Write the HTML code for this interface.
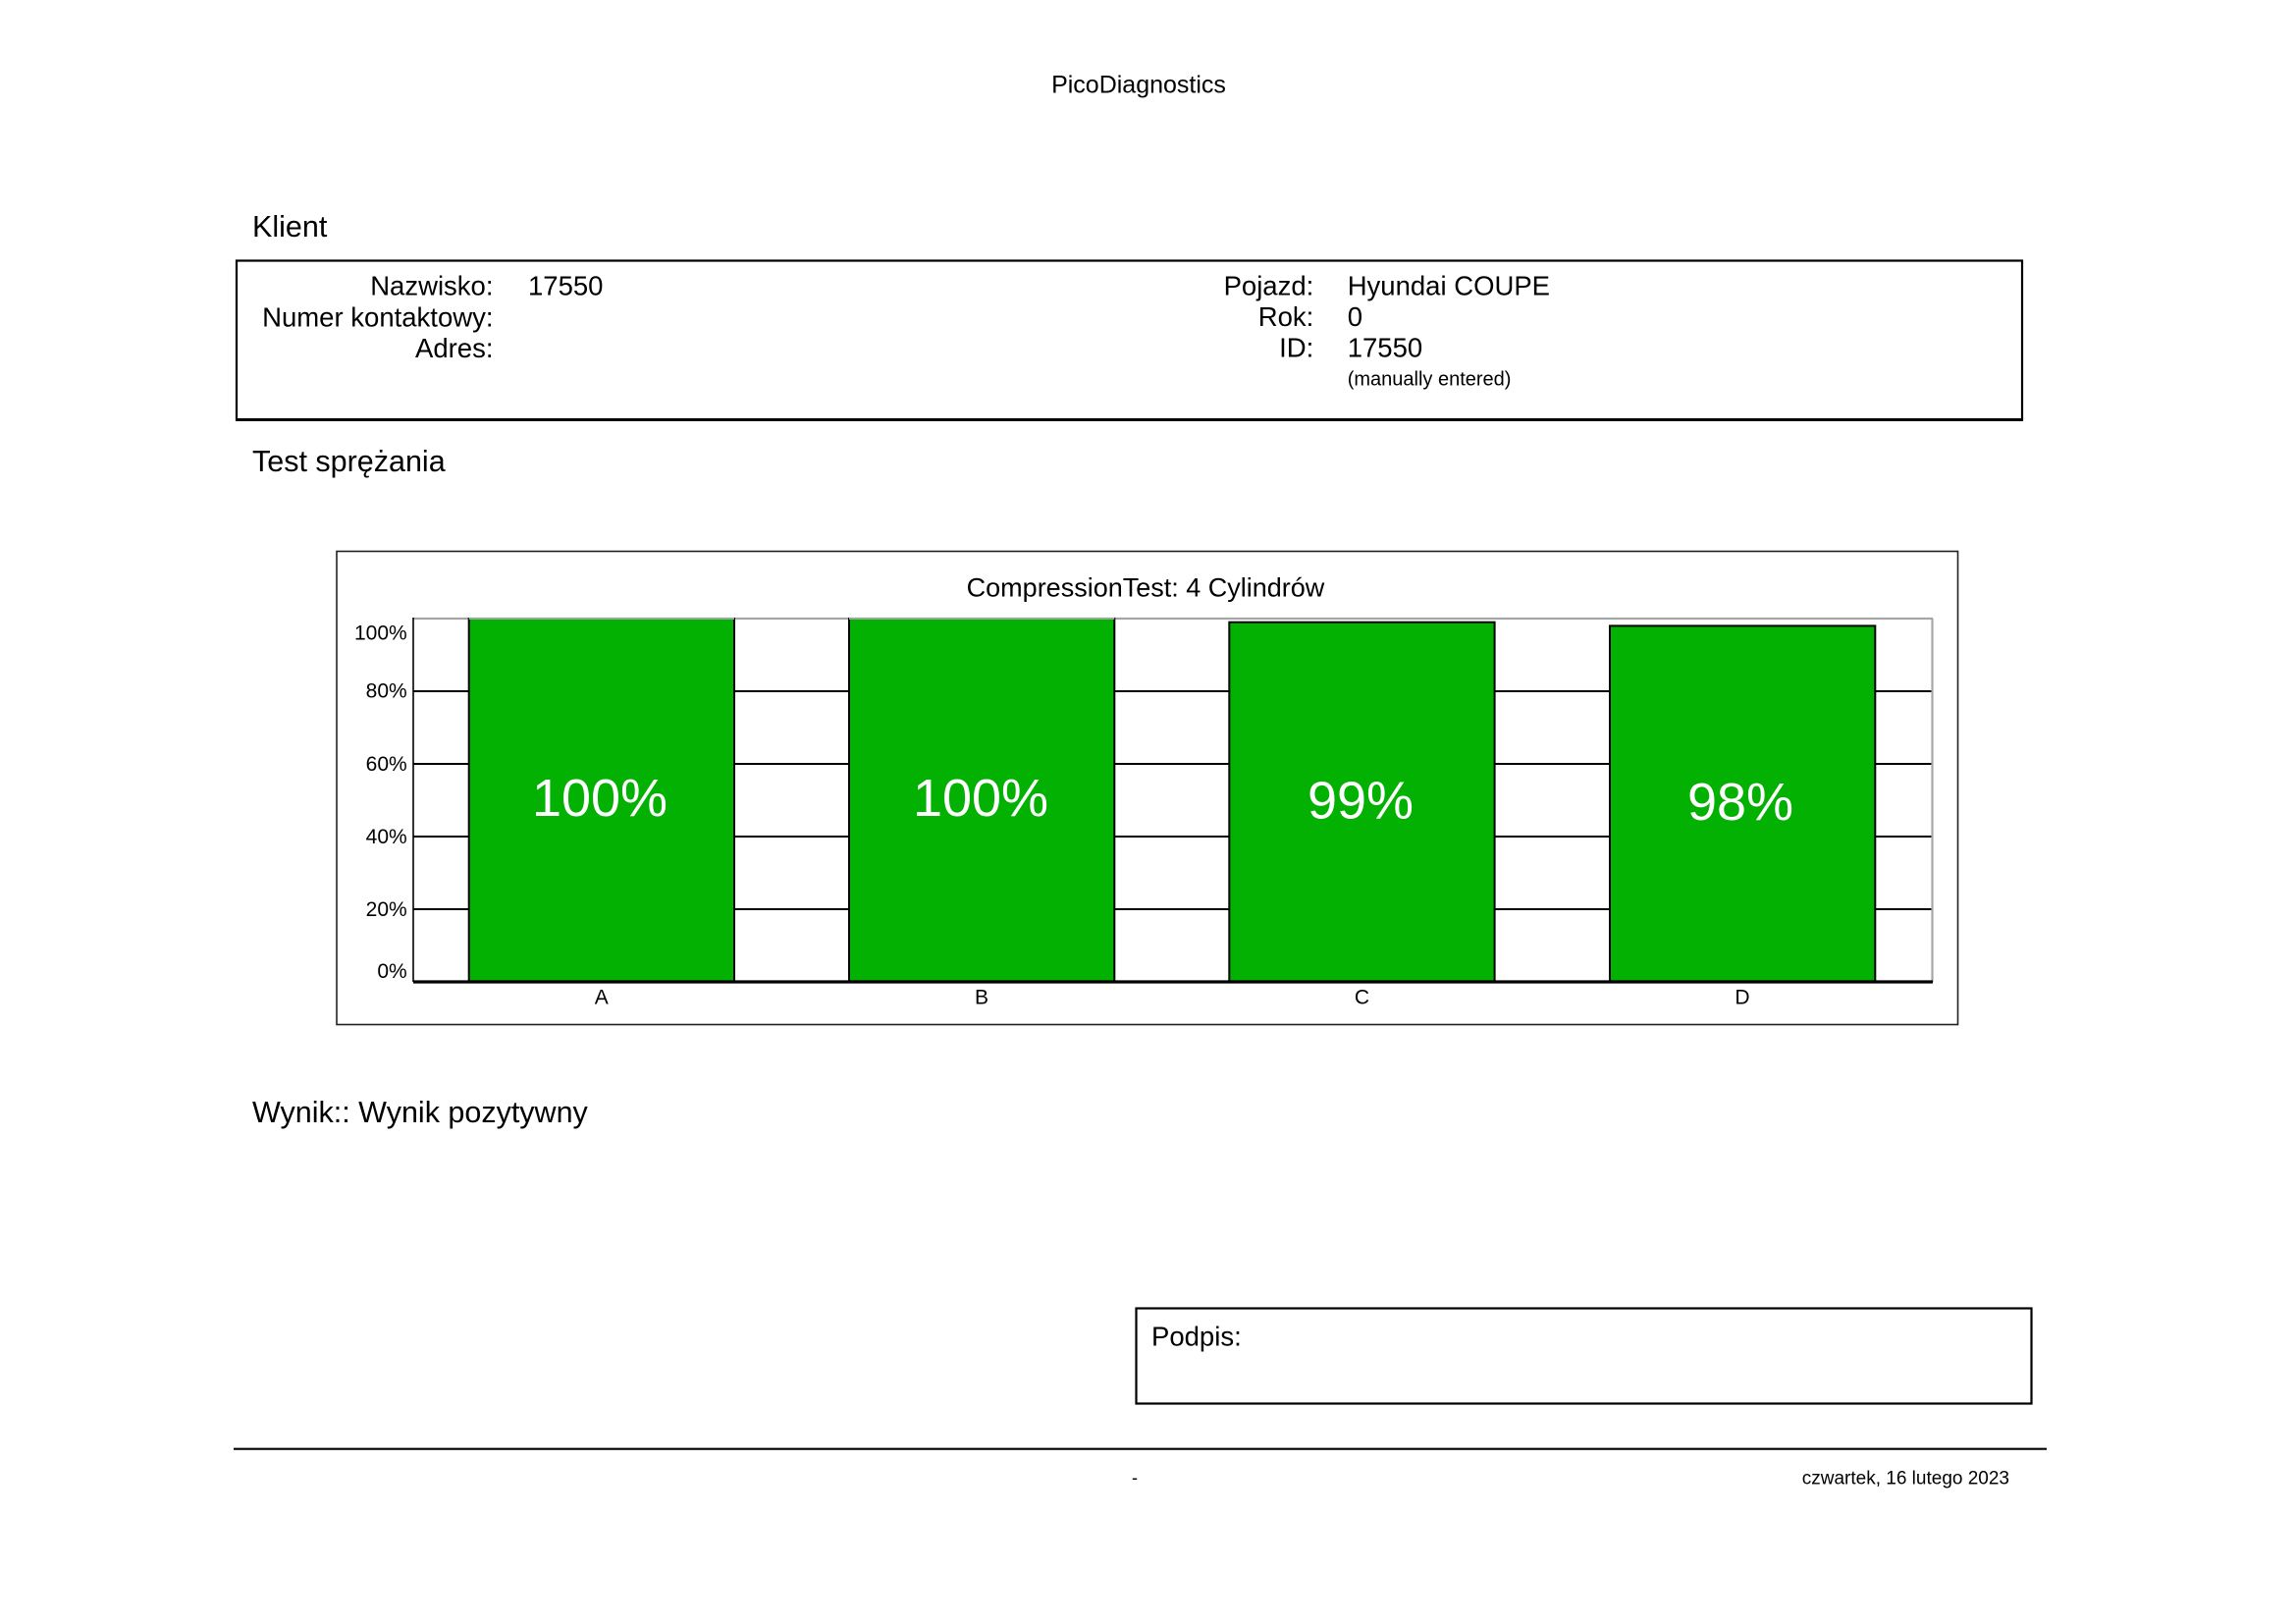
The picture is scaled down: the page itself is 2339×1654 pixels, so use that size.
<!DOCTYPE html>
<html>
<head>
<meta charset="utf-8">
<style>
  html, body { margin: 0; padding: 0; background: #ffffff; }
  body { width: 2339px; height: 1654px; overflow: hidden; }
  svg { display: block; }
  text { font-family: "Liberation Sans", Arial, sans-serif; fill: #000; }
</style>
</head>
<body>
<svg width="2339" height="1654" viewBox="0 0 2339 1654" xmlns="http://www.w3.org/2000/svg">
  <rect x="0" y="0" width="2339" height="1654" fill="#ffffff"/>

  <!-- Header -->
  <text x="1160" y="94.5" font-size="25" text-anchor="middle">PicoDiagnostics</text>

  <!-- Klient -->
  <text x="257" y="241" font-size="30.5">Klient</text>
  <rect x="241" y="265.5" width="1819" height="162" fill="none" stroke="#000" stroke-width="2.2"/>
  <line x1="240" y1="427.5" x2="2061" y2="427.5" stroke="#000" stroke-width="3"/>

  <g font-size="27.5">
    <text x="502.5" y="300.7" text-anchor="end">Nazwisko:</text>
    <text x="502.5" y="332.3" text-anchor="end">Numer kontaktowy:</text>
    <text x="502.5" y="364" text-anchor="end">Adres:</text>
    <text x="538" y="300.7">17550</text>

    <text x="1338.3" y="300.7" text-anchor="end">Pojazd:</text>
    <text x="1338.3" y="331.9" text-anchor="end">Rok:</text>
    <text x="1338.3" y="363.3" text-anchor="end">ID:</text>
    <text x="1372.7" y="300.7">Hyundai COUPE</text>
    <text x="1372.7" y="331.9">0</text>
    <text x="1372.7" y="363.3">17550</text>
  </g>
  <text x="1372.7" y="392.5" font-size="20">(manually entered)</text>

  <!-- Test sprężania -->
  <text x="257" y="480" font-size="30.5">Test sprężania</text>

  <!-- Chart box -->
  <rect x="343" y="561.5" width="1651.5" height="482" fill="none" stroke="#222" stroke-width="1.6"/>
  <text x="1167" y="607.7" font-size="27" text-anchor="middle">CompressionTest: 4 Cylindrów</text>

  <!-- Gridlines -->
  <g stroke="#000" stroke-width="2">
    <line x1="421" y1="704" x2="1969" y2="704"/>
    <line x1="421" y1="778" x2="1969" y2="778"/>
    <line x1="421" y1="852" x2="1969" y2="852"/>
    <line x1="421" y1="926" x2="1969" y2="926"/>
  </g>
  <!-- plot frame -->
  <line x1="421" y1="630" x2="1969" y2="630" stroke="#a6a6a6" stroke-width="2.2"/>
  <line x1="1968.5" y1="630" x2="1968.5" y2="1000" stroke="#a6a6a6" stroke-width="2.2"/>
  <line x1="421" y1="629" x2="421" y2="1000" stroke="#000" stroke-width="1.6"/>

  <!-- Bars -->
  <g fill="#02b102" stroke="#000" stroke-width="2">
    <rect x="477.7" y="630" width="270.3" height="370"/>
    <rect x="865" y="630" width="270.3" height="370"/>
    <rect x="1252.3" y="633.7" width="270.3" height="366.3"/>
    <rect x="1640" y="637.4" width="270.3" height="362.6"/>
  </g>
  <line x1="477.7" y1="630" x2="748" y2="630" stroke="#9aa89a" stroke-width="2"/>
  <line x1="865" y1="630" x2="1135.3" y2="630" stroke="#9aa89a" stroke-width="2"/>

  <!-- Bottom axis -->
  <line x1="421" y1="1000" x2="1969" y2="1000" stroke="#000" stroke-width="3.2"/>

  <!-- Y labels -->
  <g font-size="21" text-anchor="end">
    <text x="414.7" y="651.7">100%</text>
    <text x="414.7" y="710.7">80%</text>
    <text x="414.7" y="785">60%</text>
    <text x="414.7" y="859">40%</text>
    <text x="414.7" y="933">20%</text>
    <text x="414.7" y="996">0%</text>
  </g>

  <!-- Bar value labels -->
  <g font-size="54" text-anchor="middle">
    <text x="611" y="831" style="fill:#ffffff">100%</text>
    <text x="999" y="831" style="fill:#ffffff">100%</text>
    <text x="1386" y="833.5" style="fill:#ffffff">99%</text>
    <text x="1773" y="835" style="fill:#ffffff">98%</text>
  </g>

  <!-- X labels -->
  <g font-size="21" text-anchor="middle">
    <text x="612.8" y="1022.6">A</text>
    <text x="1000" y="1022.6">B</text>
    <text x="1387.5" y="1022.6">C</text>
    <text x="1775" y="1022.6">D</text>
  </g>

  <!-- Wynik -->
  <text x="257" y="1143" font-size="30.5">Wynik:: Wynik pozytywny</text>

  <!-- Podpis box -->
  <rect x="1157.5" y="1332.5" width="912" height="97" fill="none" stroke="#000" stroke-width="2.2"/>
  <text x="1173" y="1370.7" font-size="27.5">Podpis:</text>

  <!-- Footer -->
  <line x1="238" y1="1475.7" x2="2085" y2="1475.7" stroke="#000" stroke-width="2.2"/>
  <text x="1156" y="1511" font-size="18" text-anchor="middle">-</text>
  <text x="2047" y="1511.7" font-size="19" text-anchor="end">czwartek, 16 lutego 2023</text>
</svg>
</body>
</html>
